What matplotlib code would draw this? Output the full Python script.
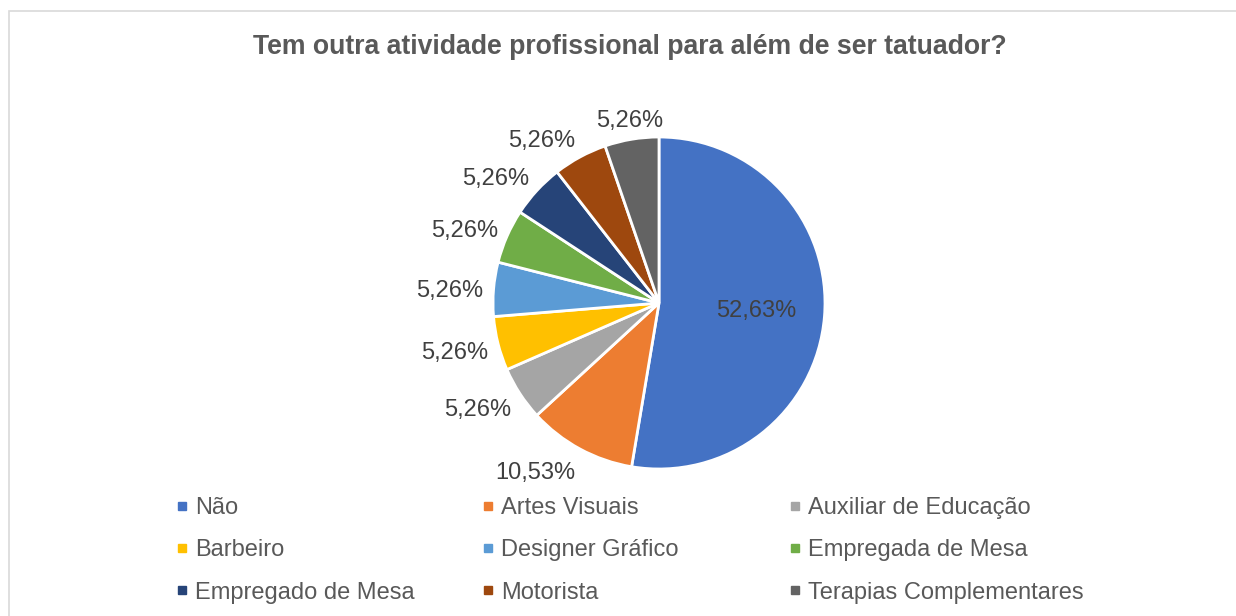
import numpy as np
import matplotlib
matplotlib.use("Agg")
import matplotlib.pyplot as plt
from matplotlib.lines import Line2D
from matplotlib.patches import Rectangle

plt.rcParams['font.family'] = ['Liberation Sans', 'DejaVu Sans']

title = "Tem outra atividade profissional para além de ser tatuador?"
categories = ["Não", "Artes Visuais", "Auxiliar de Educação", "Barbeiro",
              "Designer Gráfico", "Empregada de Mesa", "Empregado de Mesa",
              "Motorista", "Terapias Complementares"]
values = [52.63, 10.53, 5.26, 5.26, 5.26, 5.26, 5.26, 5.26, 5.26]
colors = ["#4472C4", "#ED7D31", "#A5A5A5", "#FFC000", "#5B9BD5",
          "#70AD47", "#264478", "#9E480E", "#636363"]

W, H = 1236, 616
fig = plt.figure(figsize=(W / 100, H / 100), dpi=100)
fig.patch.set_facecolor("white")

# chart frame (light grey border extending beyond the image on right/bottom)
fig.patches.append(Rectangle((9 / W, -0.1), 1.2, 1 - 11 / H + 0.1,
                             transform=fig.transFigure, fill=False,
                             edgecolor="#D9D9D9", linewidth=1.2))

cx, cy, R = 659, 303, 166
ax = fig.add_axes([(cx - R) / W, (H - cy - R) / H, 2 * R / W, 2 * R / H])
wedges, _ = ax.pie(values, colors=colors, startangle=90, counterclock=False,
                   wedgeprops=dict(edgecolor="white", linewidth=2.0))
ax.set_xlim(-1, 1)
ax.set_ylim(-1, 1)
ax.set_aspect("equal")
ax.axis("off")

def fmt(v):
    return f"{v:.2f}".replace(".", ",") + "%"

px_to_pt = 72 / 100
for i, (w, v) in enumerate(zip(wedges, values)):
    mid = np.deg2rad((w.theta1 + w.theta2) / 2)
    c, s = np.cos(mid), np.sin(mid)
    if i == 0:
        ax.text(0.59 * c, 0.59 * s, fmt(v), ha="center", va="center",
                fontsize=17, color="#404040")
        continue
    r = 1.06
    ha = "right" if c < -0.3 else ("left" if c > 0.3 else "center")
    ax.annotate(fmt(v), xy=(r * c, r * s), xytext=(0, (13 * s - 4) * px_to_pt),
                textcoords="offset points", ha=ha, va="center",
                fontsize=17, color="#404040", annotation_clip=False)

fig.text(629.5 / W, 1 - 47 / H, title, ha="center", va="center",
         fontsize=19.2, fontweight="bold", color="#595959")

# legend: three fixed columns, entries ordered row-wise
col_x = [176, 482, 789]
for k in range(3):
    idx = list(range(k, len(categories), 3))
    handles = [Line2D([], [], linestyle="none", marker="s", markersize=5.8,
                      markerfacecolor=colors[j], markeredgecolor=colors[j])
               for j in idx]
    leg = fig.legend(handles, [categories[j] for j in idx],
                     loc="upper left", bbox_to_anchor=(col_x[k] / W, 1 - 497 / H),
                     frameon=False, fontsize=17, handlelength=0.5,
                     handletextpad=0.32, labelspacing=0.86, borderpad=0,
                     borderaxespad=0)
    for t in leg.get_texts():
        t.set_color("#595959")

fig.savefig("out.png", dpi=100, facecolor="white")
